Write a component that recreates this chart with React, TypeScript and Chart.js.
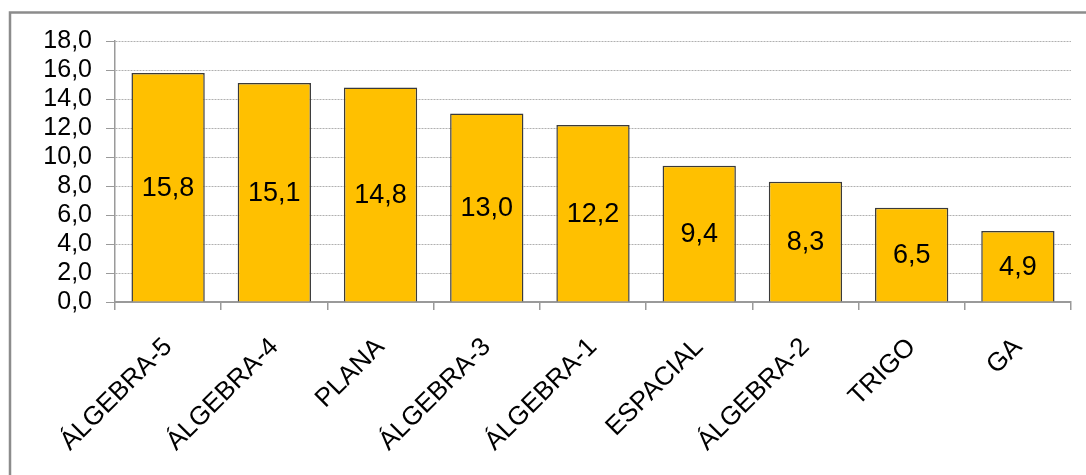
import React, { useEffect, useRef } from "react";
import { Chart, registerables } from "chart.js";

Chart.register(...registerables);

const categories: string[] = [
  "ÁLGEBRA-5",
  "ÁLGEBRA-4",
  "PLANA",
  "ÁLGEBRA-3",
  "ÁLGEBRA-1",
  "ESPACIAL",
  "ÁLGEBRA-2",
  "TRIGO",
  "GA",
];
const values: number[] = [15.8, 15.1, 14.8, 13.0, 12.2, 9.4, 8.3, 6.5, 4.9];
const yTicks: number[] = [0, 2, 4, 6, 8, 10, 12, 14, 16, 18];

const FONT = 'Arial, "Liberation Sans", sans-serif';
const fmt = (v: number) => v.toFixed(1).replace(".", ",");

// Gray frame around the whole chart
const framePlugin = {
  id: "frame",
  beforeDraw(chart: Chart) {
    const { ctx } = chart;
    ctx.save();
    ctx.strokeStyle = "#8c8c8c";
    ctx.lineWidth = 2.5;
    ctx.strokeRect(10, 12.5, chart.width + 20, chart.height + 20);
    ctx.restore();
  },
};

// Value label centred in each bar
const barLabelPlugin = {
  id: "barLabels",
  afterDatasetsDraw(chart: Chart) {
    const { ctx } = chart;
    const meta = chart.getDatasetMeta(0);
    ctx.save();
    ctx.font = `27px ${FONT}`;
    ctx.fillStyle = "#000";
    ctx.textAlign = "center";
    ctx.textBaseline = "middle";
    meta.data.forEach((el: any, i: number) => {
      const { x, y, base } = el.getProps(["x", "y", "base"], true);
      ctx.fillText(fmt(values[i]), x, (y + base) / 2 + 1);
    });
    ctx.restore();
  },
};

export default function App() {
  const canvasRef = useRef<HTMLCanvasElement | null>(null);

  useEffect(() => {
    if (!canvasRef.current) return;
    const chart = new Chart(canvasRef.current, {
      type: "bar",
      data: {
        labels: categories,
        datasets: [
          {
            data: values,
            backgroundColor: "#FFC000",
            borderColor: "#3a3a3a",
            borderWidth: 1.5,
            categoryPercentage: 1,
            barPercentage: 0.69,
          },
        ],
      },
      options: {
        animation: false,
        responsive: true,
        maintainAspectRatio: false,
        layout: { padding: { left: 0, top: 41, right: 15, bottom: 0 } },
        plugins: {
          legend: { display: false },
          tooltip: { enabled: false },
        },
        scales: {
          x: {
            grid: {
              offset: true,
              drawOnChartArea: false,
              drawTicks: true,
              tickLength: 8,
              color: "#9a9a9a",
              lineWidth: 1.5,
            },
            border: { color: "#9a9a9a", width: 2 },
            ticks: {
              autoSkip: false,
              minRotation: 45,
              maxRotation: 45,
              padding: 22,
              color: "#000",
              font: { family: FONT, size: 26 },
            },
            afterFit(scale: any) {
              scale.height = 475 - 302;
            },
          },
          y: {
            min: 0,
            max: 18,
            afterBuildTicks(scale: any) {
              scale.ticks = yTicks.map((v) => ({ value: v }));
            },
            grid: {
              color: "#b0b0b0",
              lineWidth: 1,
              tickBorderDash: [],
              tickColor: "#9a9a9a",
              tickLength: 9,
              drawTicks: true,
            },
            border: { color: "#9a9a9a", width: 1.5, dash: [2, 1] },
            ticks: {
              autoSkip: false,
              padding: 14,
              color: "#000",
              font: { family: FONT, size: 25 },
              callback: (v: any) => fmt(Number(v)),
            },
            afterFit(scale: any) {
              scale.width = 115;
            },
          },
        },
      },
      plugins: [framePlugin, barLabelPlugin],
    });
    return () => chart.destroy();
  }, []);

  return (
    <div
      style={{
        position: "fixed",
        left: 0,
        top: 0,
        width: 1086,
        height: 475,
        background: "#fff",
      }}
    >
      <canvas ref={canvasRef} />
    </div>
  );
}
